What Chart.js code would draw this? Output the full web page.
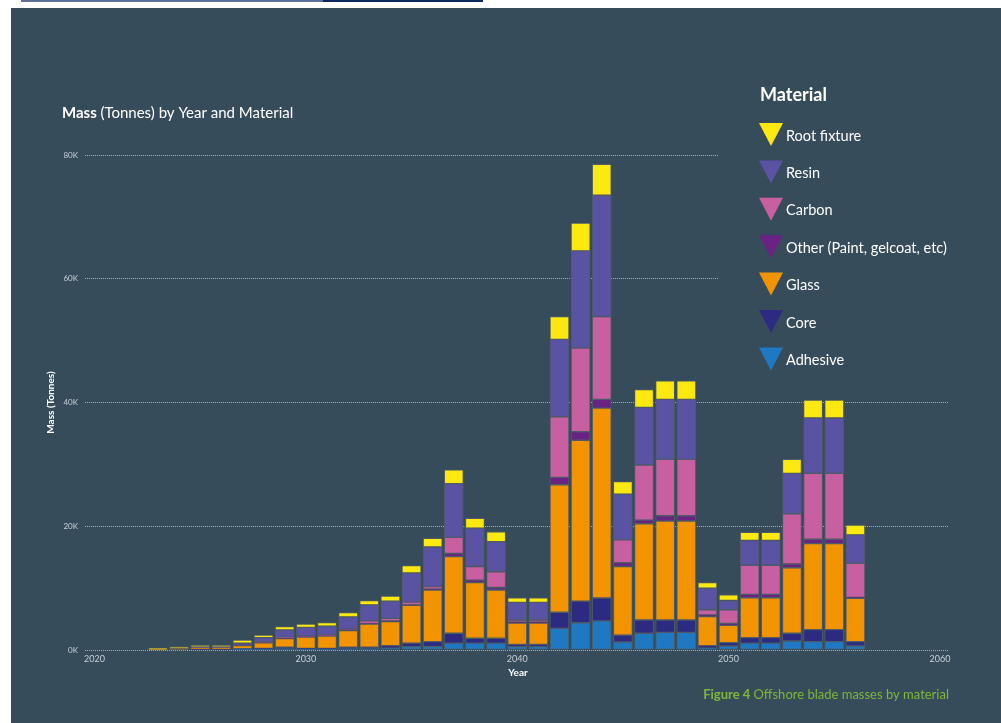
<!DOCTYPE html>
<html>
<head>
<meta charset="utf-8">
<script src="https://cdn.jsdelivr.net/npm/chart.js@4.4.0/dist/chart.umd.min.js"></script>
<style>
    html, body { margin: 0; padding: 0; background: #ffffff; }
    body { width: 1001px; height: 723px; position: relative; overflow: hidden; }
    #panel { position: absolute; left: 11px; top: 8px; right: 0; bottom: 0; background: #374c5a; }
    #topline1 { position: absolute; left: 21px; top: 0; width: 302px; height: 2px; background: #5a6f96; }
    #topline2 { position: absolute; left: 323px; top: 0; width: 160px; height: 2px; background: #0f2560; }
    #myChart { position: absolute; left: 0; top: 0; }
</style>
</head>
<body>
<div id="topline1"></div>
<div id="topline2"></div>
<div id="panel"></div>
<canvas id="myChart" width="1001" height="723"></canvas>
<script>
    // Years with decommissioned blades
    const years = [2023, 2024, 2025, 2026, 2027, 2028, 2029, 2030, 2031, 2032,
                   2033, 2034, 2035, 2036, 2037, 2038, 2039, 2040, 2041, 2042,
                   2043, 2044, 2045, 2046, 2047, 2048, 2049, 2050, 2051, 2052,
                   2053, 2054, 2055, 2056];

    // Mass per material (tonnes), one value per year
    const adhesive = [0, 0, 0, 0, 50, 100, 200, 100, 100, 200, 200, 300, 550, 550, 1100, 1100, 1100, 550, 550, 3500, 4400, 4700, 1300, 2700, 2850, 2850, 300, 650, 1100, 1100, 1450, 1350, 1350, 650];
    const core = [0, 0, 50, 50, 150, 150, 250, 150, 150, 250, 250, 400, 550, 800, 1600, 800, 800, 350, 350, 2600, 3500, 3700, 1100, 2150, 2000, 2000, 400, 550, 900, 900, 1250, 1950, 1950, 700];
    const glass = [50, 250, 350, 350, 500, 900, 1400, 1850, 2000, 2700, 3750, 3900, 6100, 8350, 12400, 9000, 7800, 3450, 3450, 20600, 26000, 30700, 11100, 15550, 16000, 16000, 4700, 2800, 6450, 6450, 10600, 13900, 13900, 7000];
    const other = [0, 0, 0, 0, 50, 50, 50, 50, 50, 150, 50, 100, 100, 150, 500, 400, 400, 150, 150, 1200, 1400, 1400, 600, 600, 850, 850, 250, 300, 550, 550, 600, 700, 700, 150];
    const carbon = [0, 0, 50, 50, 50, 100, 150, 100, 150, 100, 450, 400, 450, 400, 2600, 2200, 2550, 350, 350, 9800, 13500, 13400, 3700, 8900, 9100, 9100, 850, 2200, 4700, 4700, 8100, 10650, 10650, 5500];
    const resin = [0, 0, 50, 50, 300, 700, 1200, 1400, 1400, 1950, 2600, 2800, 4700, 6400, 8700, 6200, 4850, 2850, 2850, 12500, 15700, 19600, 7400, 9300, 9700, 9700, 3500, 1500, 4000, 4000, 6550, 8950, 8950, 4600];
    const rootFixture = [250, 300, 250, 250, 500, 400, 550, 550, 600, 700, 700, 800, 1200, 1400, 2200, 1600, 1600, 750, 750, 3700, 4500, 5000, 2000, 2900, 3000, 3000, 900, 900, 1300, 1300, 2250, 2900, 2900, 1600];

    const xTickValues = [2020, 2030, 2040, 2050, 2060];
    const yTickValues = [0, 20000, 40000, 60000, 80000];

    // bottom to top in the stack
    const materials = [
        { label: 'Adhesive', data: adhesive, color: '#1e78c2' },
        { label: 'Core', data: core, color: '#2d2a82' },
        { label: 'Glass', data: glass, color: '#f29300' },
        { label: 'Other (Paint, gelcoat, etc)', data: other, color: '#6a2383' },
        { label: 'Carbon', data: carbon, color: '#c75fa0' },
        { label: 'Resin', data: resin, color: '#5a53a3' },
        { label: 'Root fixture', data: rootFixture, color: '#fde80f' }
    ];

    const BG = '#374c5a';
    const FONT = 'Lato, "Open Sans", sans-serif';

    const datasets = materials.map(function(m) {
        return {
            label: m.label,
            data: years.map(function(y, i) { return { x: y, y: m.data[i] }; }),
            backgroundColor: m.color,
            borderColor: 'rgba(80,92,104,0.9)',
            borderWidth: 1,
            borderSkipped: false,
            barThickness: 19
        };
    });

    // texts and legend drawn around the plot
    const decorations = {
        id: 'decorations',
        beforeDatasetsDraw: function(chart) {
            const ctx = chart.ctx;
            ctx.save();
            ctx.fillStyle = BG;
            ctx.fillRect(718, 75, 240, 312);
            ctx.restore();
        },
        afterDraw: function(chart) {
            const ctx = chart.ctx;
            const area = chart.chartArea;
            ctx.save();
            ctx.textBaseline = 'middle';

            // chart title
            ctx.fillStyle = '#ffffff';
            ctx.textAlign = 'left';
            ctx.font = 'bold 15px ' + FONT;
            ctx.fillText('Mass', 62, 113);
            let w = ctx.measureText('Mass ').width;
            ctx.font = '15px ' + FONT;
            ctx.fillText('(Tonnes) by Year and Material', 62 + w, 113);

            // axis titles
            ctx.font = 'bold 10px ' + FONT;
            ctx.textAlign = 'center';
            ctx.save();
            ctx.translate(51, (area.top + area.bottom) / 2);
            ctx.rotate(-Math.PI / 2);
            ctx.fillText('Mass (Tonnes)', 0, 0);
            ctx.restore();
            ctx.font = 'bold 10px ' + FONT;
            ctx.fillText('Year', 518, 673);

            // legend
            ctx.textAlign = 'left';
            ctx.font = 'bold 18px ' + FONT;
            ctx.fillText('Material', 760, 95);
            ctx.font = '14.5px ' + FONT;
            const items = materials.slice().reverse();
            items.forEach(function(m, i) {
                const cy = 136 + i * 37.4;
                ctx.fillStyle = m.color;
                ctx.beginPath();
                ctx.moveTo(759, cy - 13);
                ctx.lineTo(783, cy - 13);
                ctx.lineTo(771, cy + 10);
                ctx.closePath();
                ctx.fill();
                ctx.fillStyle = '#ffffff';
                ctx.fillText(m.label, 786, cy);
            });

            // caption
            ctx.textAlign = 'left';
            ctx.fillStyle = '#7db83a';
            ctx.font = 'bold 13px ' + FONT;
            const cap1 = 'Figure 4 ';
            const cap2 = 'Offshore blade masses by material';
            const w1 = ctx.measureText(cap1).width;
            ctx.font = '13px ' + FONT;
            const w2 = ctx.measureText(cap2).width;
            const x0 = 949 - w1 - w2;
            ctx.font = 'bold 13px ' + FONT;
            ctx.fillText(cap1, x0, 695);
            ctx.font = '13px ' + FONT;
            ctx.fillText(cap2, x0 + w1, 695);
            ctx.restore();
        }
    };

    const ctx = document.getElementById('myChart').getContext('2d');
    new Chart(ctx, {
        type: 'bar',
        data: { datasets: datasets },
        options: {
            responsive: false,
            animation: false,
            devicePixelRatio: 1,
            layout: { padding: { left: 0, top: 155, right: 52, bottom: 53 } },
            plugins: { legend: { display: false }, tooltip: { enabled: false } },
            scales: {
                x: {
                    type: 'linear',
                    stacked: true,
                    offset: false,
                    min: 2019.55,
                    max: 2060.43,
                    grid: { display: false, drawTicks: false },
                    border: { display: false },
                    afterBuildTicks: function(scale) {
                        scale.ticks = xTickValues.map(function(v) { return { value: v }; });
                    },
                    afterFit: function(scale) { scale.height = 20; },
                    ticks: {
                        color: '#c8d0d8',
                        font: { family: FONT, size: 9 },
                        padding: 4,
                        maxRotation: 0,
                        callback: function(v) { return String(v); }
                    }
                },
                y: {
                    stacked: true,
                    min: 0,
                    max: 80000,
                    grid: { color: 'rgba(200,208,214,0.75)', drawTicks: false, lineWidth: 1 },
                    border: { display: false, dash: [1, 1] },
                    afterBuildTicks: function(scale) {
                        scale.ticks = yTickValues.map(function(v) { return { value: v }; });
                    },
                    afterFit: function(scale) { scale.width = 85; },
                    ticks: {
                        color: '#c8d0d8',
                        font: { family: FONT, size: 8 },
                        padding: 7,
                        callback: function(v) { return (v / 1000) + 'K'; }
                    }
                }
            }
        },
        plugins: [decorations]
    });
</script>
</body>
</html>
